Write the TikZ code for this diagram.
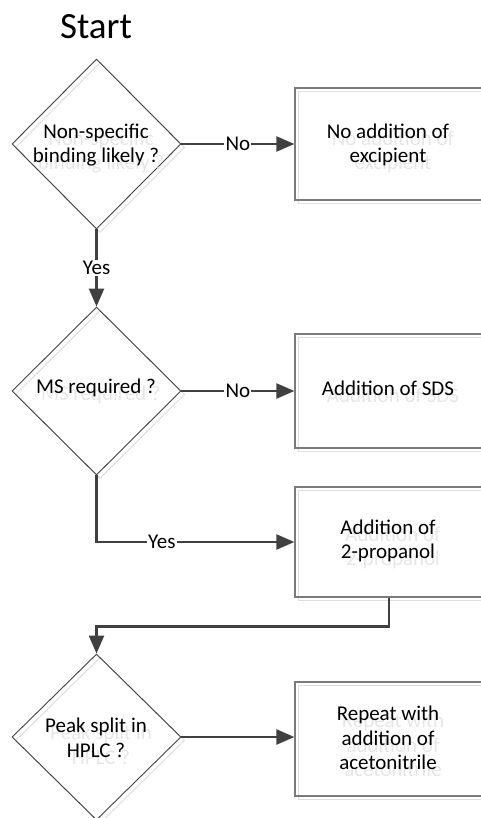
\documentclass[tikz,border=0pt]{standalone}
\usepackage{fontspec}
\setmainfont{Carlito}
\usetikzlibrary{shapes.geometric,arrows.meta}

\definecolor{ink}{HTML}{404040}
\definecolor{edge}{HTML}{7A7A7A}
\definecolor{ghostc}{HTML}{E6E6E6}

\tikzset{
  decision/.style={diamond, draw=ink, line width=0.9pt, inner sep=0pt,
    minimum width=169pt, minimum height=#1},
  procbox/.style={rectangle, draw=edge, line width=1.3pt, inner sep=0pt,
    minimum width=188pt, minimum height=#1},
  shadowline/.style={draw=black!13, line width=1pt, xshift=3.5pt, yshift=-3.5pt},
  txt/.style={align=center, inner sep=0pt, font=\fontsize{21pt}{24.6pt}\selectfont},
  ghost/.style={txt, text=ghostc},
  flow/.style={draw=ink, line width=2.5pt, -{Triangle[length=18pt,width=15pt]}},
  lab/.style={fill=white, inner sep=1.2pt, font=\fontsize{21pt}{24pt}\selectfont, text=black},
}

% text with its pale offset copy underneath
\newcommand\boxtext[3]{%
  \node[ghost] (#1g) at ([shift={(5,7)}]#2) {#3};
  \node[txt] (#1) at (#2) {#3};}

\begin{document}
\begin{tikzpicture}[x=1pt,y=-1pt]
\useasboundingbox (0,0) rectangle (481,818);
\clip (0,0) rectangle (481,818);

\node[font=\fontsize{37pt}{40pt}\selectfont, inner sep=0pt] (start) at (96,27) {Start};

% decisions (pale offset outline first)
\node[decision=170pt, shadowline] (d1s) at (96.5,144) {};
\node[decision=170pt] (d1) at (96.5,144) {};
\node[decision=168pt, shadowline] (d2s) at (96.5,391) {};
\node[decision=168pt] (d2) at (96.5,391) {};
\node[decision=166pt, shadowline] (d3s) at (96.5,737) {};
\node[decision=166pt] (d3) at (96.5,737) {};

% process boxes
\node[procbox=112pt, shadowline] (b1s) at (389,144) {};
\node[procbox=112pt] (b1) at (389,144) {};
\node[procbox=114pt, shadowline] (b2s) at (389,391) {};
\node[procbox=114pt] (b2) at (389,391) {};
\node[procbox=110pt, shadowline] (b3s) at (389,542) {};
\node[procbox=110pt] (b3) at (389,542) {};
\node[procbox=114pt, shadowline] (b4s) at (389,739) {};
\node[procbox=114pt] (b4) at (389,739) {};

% texts
\boxtext{t1}{96,145}{Non-specific\\binding likely ?}
\boxtext{t2}{96,388}{MS required ?}
\boxtext{t3}{96,738}{Peak split in\\HPLC ?}
\boxtext{u1}{388,145}{No addition of\\excipient}
\boxtext{u2}{388,388}{Addition of SDS}
\boxtext{u3}{388,541}{Addition of\\2-propanol}
\boxtext{u4}{388,738}{Repeat with\\addition of\\acetonitrile}

% connectors
\draw[flow] (d1.east) -- node[lab] (n1) {No} (b1.west);
\draw[flow] (d1.south) -- node[lab] (y1) {Yes} (d2.north);
\draw[flow] (d2.east) -- node[lab] (n2) {No} (b2.west);
\draw[flow] (d2.south) -- (d2.south |- b3.west) -- node[lab, pos=0.33] (y2) {Yes} (b3.west);
\coordinate (bend) at ([yshift=-29pt]b3.south);
\draw[flow] (b3.south) -- (bend) -| (d3.north);
\draw[flow] (d3.east) -- (d3.east -| b4.west);
\end{tikzpicture}
\end{document}
